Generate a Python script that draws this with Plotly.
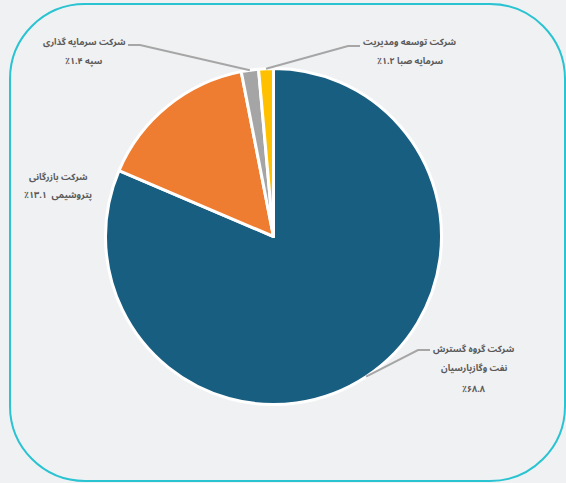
import math
import plotly.graph_objects as go

# ---- data ----
company_line1 = ["شرکت گروه گسترش", "شرکت بازرگانی", "شرکت سرمایه گذاری", "شرکت توسعه ومدیریت"]
company_line2 = ["نفت وگازپارسیان", "پتروشیمی ", "سپه", "سرمایه صبا"]
shares = [68.8, 13.1, 1.4, 1.2]
colors = ["#175e81", "#ee7d31", "#a5a5a5", "#ffc000"]

W, H = 566, 483
FA_DIGITS = str.maketrans("0123456789", "۰۱۲۳۴۵۶۷۸۹")
ALM, RLM = "\u061c", "\u200f"
FONT = "Noto Sans Arabic, Noto Naskh Arabic, Noto Kufi Arabic, Vazirmatn, DejaVu Sans"


def fa_pct(v):
    return str(v).translate(FA_DIGITS) + "٪"


def px(x):
    return x / W


def py(y):
    return 1 - y / H


# pie geometry (pixels)
cx, cy, r = 273.5, 236.5, 168.0

fig = go.Figure(go.Pie(
    values=shares,
    labels=company_line1,
    marker=dict(colors=colors, line=dict(color="white", width=3)),
    sort=False,
    direction="clockwise",
    rotation=0,
    textinfo="none",
    hoverinfo="label+value",
    domain=dict(x=[px(cx - r), px(cx + r)], y=[py(cy + r), py(cy - r)]),
    showlegend=False,
))

label_layout = [
    dict(x=474, ys=[349, 368, 389], elbow=(418, 350), end=(430, 350)),
    dict(x=58, ys=[177, 195], elbow=None, end=None),
    dict(x=84, ys=[43, 61], elbow=(140, 45), end=(128, 45)),
    dict(x=410, ys=[43, 62], elbow=(348, 46), end=(360, 46)),
]

total = sum(shares)
annotations = []
shapes = []
cum = 0.0
for i, v in enumerate(shares):
    mid = (cum + v / 2) / total
    cum += v
    ang = 2 * math.pi * mid
    sx, sy = cx + r * math.sin(ang), cy - r * math.cos(ang)
    lay = label_layout[i]
    if i == 0:
        lines = [company_line1[i], company_line2[i], fa_pct(v)]
    else:
        lines = [company_line1[i], (company_line2[i] + " " + fa_pct(v)).strip()]
    for t, yy in zip(lines, lay["ys"]):
        annotations.append(dict(
            x=px(lay["x"]), y=py(yy), xref="paper", yref="paper",
            text=ALM + t + RLM, showarrow=False, xanchor="center", yanchor="middle",
            font=dict(family=FONT, size=9, color="#595959", weight="bold"),
        ))
    if lay["elbow"]:
        ex, ey = lay["elbow"]
        tx, ty = lay["end"]
        shapes.append(dict(
            type="path", xref="paper", yref="paper",
            path=f"M {px(sx)},{py(sy)} L {px(ex)},{py(ey)} L {px(tx)},{py(ty)}",
            line=dict(color="#a6a6a6", width=2),
        ))

# rounded frame
x0, x1, y0, y1, rad = 10, 565, 4, 481, 75
k = 0.5523 * rad
pts = [
    f"M {px(x0 + rad)},{py(y0)}",
    f"L {px(x1 - rad)},{py(y0)}",
    f"C {px(x1 - rad + k)},{py(y0)} {px(x1)},{py(y0 + rad - k)} {px(x1)},{py(y0 + rad)}",
    f"L {px(x1)},{py(y1 - rad)}",
    f"C {px(x1)},{py(y1 - rad + k)} {px(x1 - rad + k)},{py(y1)} {px(x1 - rad)},{py(y1)}",
    f"L {px(x0 + rad)},{py(y1)}",
    f"C {px(x0 + rad - k)},{py(y1)} {px(x0)},{py(y1 - rad + k)} {px(x0)},{py(y1 - rad)}",
    f"L {px(x0)},{py(y0 + rad)}",
    f"C {px(x0)},{py(y0 + rad - k)} {px(x0 + rad - k)},{py(y0)} {px(x0 + rad)},{py(y0)} Z",
]
shapes.insert(0, dict(type="path", xref="paper", yref="paper", path=" ".join(pts),
                      line=dict(color="#29c3d2", width=2), layer="below"))

fig.update_layout(
    width=W, height=H,
    margin=dict(l=0, r=0, t=0, b=0),
    paper_bgcolor="#f0f1f3",
    plot_bgcolor="#f0f1f3",
    annotations=annotations,
    shapes=shapes,
)

fig.write_html("out.html")
